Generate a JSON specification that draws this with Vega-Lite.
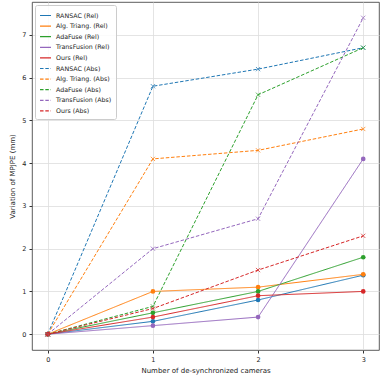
{
  "$schema": "https://vega.github.io/schema/vega-lite/v6.json",
  "width": 347,
  "height": 348,
  "autosize": {"type": "none"},
  "padding": {"left": 32, "top": 2, "right": 1, "bottom": 29},
  "config": {
    "font": "DejaVu Sans",
    "view": {"stroke": "#333333", "strokeWidth": 0.8},
    "axis": {"gridColor": "#dddddd", "gridWidth": 0.8, "domain": false, "tickColor": "#333333", "tickSize": 3, "labelFontSize": 6.5, "labelColor": "#222222", "titleFontSize": 7, "titleFontWeight": "normal", "titleColor": "#222222", "labelPadding": 3}
  },
  "data": {"values": [
    {"series": "RANSAC (Rel)", "kind": "Rel", "x": 0, "y": 0},
    {"series": "RANSAC (Rel)", "kind": "Rel", "x": 1, "y": 0.3},
    {"series": "RANSAC (Rel)", "kind": "Rel", "x": 2, "y": 0.8},
    {"series": "RANSAC (Rel)", "kind": "Rel", "x": 3, "y": 1.38},
    {"series": "Alg. Triang. (Rel)", "kind": "Rel", "x": 0, "y": 0},
    {"series": "Alg. Triang. (Rel)", "kind": "Rel", "x": 1, "y": 1.0},
    {"series": "Alg. Triang. (Rel)", "kind": "Rel", "x": 2, "y": 1.1},
    {"series": "Alg. Triang. (Rel)", "kind": "Rel", "x": 3, "y": 1.4},
    {"series": "AdaFuse (Rel)", "kind": "Rel", "x": 0, "y": 0},
    {"series": "AdaFuse (Rel)", "kind": "Rel", "x": 1, "y": 0.5},
    {"series": "AdaFuse (Rel)", "kind": "Rel", "x": 2, "y": 1.0},
    {"series": "AdaFuse (Rel)", "kind": "Rel", "x": 3, "y": 1.8},
    {"series": "TransFusion (Rel)", "kind": "Rel", "x": 0, "y": 0},
    {"series": "TransFusion (Rel)", "kind": "Rel", "x": 1, "y": 0.2},
    {"series": "TransFusion (Rel)", "kind": "Rel", "x": 2, "y": 0.4},
    {"series": "TransFusion (Rel)", "kind": "Rel", "x": 3, "y": 4.1},
    {"series": "Ours (Rel)", "kind": "Rel", "x": 0, "y": 0},
    {"series": "Ours (Rel)", "kind": "Rel", "x": 1, "y": 0.4},
    {"series": "Ours (Rel)", "kind": "Rel", "x": 2, "y": 0.9},
    {"series": "Ours (Rel)", "kind": "Rel", "x": 3, "y": 1.0},
    {"series": "RANSAC (Abs)", "kind": "Abs", "x": 0, "y": 0},
    {"series": "RANSAC (Abs)", "kind": "Abs", "x": 1, "y": 5.8},
    {"series": "RANSAC (Abs)", "kind": "Abs", "x": 2, "y": 6.2},
    {"series": "RANSAC (Abs)", "kind": "Abs", "x": 3, "y": 6.7},
    {"series": "Alg. Triang. (Abs)", "kind": "Abs", "x": 0, "y": 0},
    {"series": "Alg. Triang. (Abs)", "kind": "Abs", "x": 1, "y": 4.1},
    {"series": "Alg. Triang. (Abs)", "kind": "Abs", "x": 2, "y": 4.3},
    {"series": "Alg. Triang. (Abs)", "kind": "Abs", "x": 3, "y": 4.8},
    {"series": "AdaFuse (Abs)", "kind": "Abs", "x": 0, "y": 0},
    {"series": "AdaFuse (Abs)", "kind": "Abs", "x": 1, "y": 0.65},
    {"series": "AdaFuse (Abs)", "kind": "Abs", "x": 2, "y": 5.6},
    {"series": "AdaFuse (Abs)", "kind": "Abs", "x": 3, "y": 6.7},
    {"series": "TransFusion (Abs)", "kind": "Abs", "x": 0, "y": 0},
    {"series": "TransFusion (Abs)", "kind": "Abs", "x": 1, "y": 2.0},
    {"series": "TransFusion (Abs)", "kind": "Abs", "x": 2, "y": 2.7},
    {"series": "TransFusion (Abs)", "kind": "Abs", "x": 3, "y": 7.4},
    {"series": "Ours (Abs)", "kind": "Abs", "x": 0, "y": 0},
    {"series": "Ours (Abs)", "kind": "Abs", "x": 1, "y": 0.6},
    {"series": "Ours (Abs)", "kind": "Abs", "x": 2, "y": 1.5},
    {"series": "Ours (Abs)", "kind": "Abs", "x": 3, "y": 2.3}
  ]},
  "encoding": {
    "x": {"field": "x", "type": "quantitative", "scale": {"domain": [-0.15, 3.15], "nice": false, "zero": false}, "axis": {"values": [0, 1, 2, 3], "title": "Number of de-synchronized cameras", "titlePadding": 4}},
    "y": {"field": "y", "type": "quantitative", "scale": {"domain": [-0.37, 7.77], "nice": false, "zero": false}, "axis": {"values": [0, 1, 2, 3, 4, 5, 6, 7], "title": "Variation of MPJPE (mm)", "titlePadding": 6}},
    "color": {"field": "series", "type": "nominal",
      "scale": {"domain": ["RANSAC (Rel)", "Alg. Triang. (Rel)", "AdaFuse (Rel)", "TransFusion (Rel)", "Ours (Rel)", "RANSAC (Abs)", "Alg. Triang. (Abs)", "AdaFuse (Abs)", "TransFusion (Abs)", "Ours (Abs)"],
        "range": ["#1f77b4", "#ff7f0e", "#2ca02c", "#9467bd", "#d62728", "#1f77b4", "#ff7f0e", "#2ca02c", "#9467bd", "#d62728"]},
      "legend": {"title": null, "orient": "top-left", "offset": 3, "symbolType": "stroke", "symbolSize": 120, "symbolStrokeWidth": 1.2, "labelFontSize": 6.3, "labelColor": "#222222", "rowPadding": 0.6, "fillColor": "rgba(255,255,255,0.85)", "strokeColor": "#cccccc", "padding": 4, "cornerRadius": 2, "symbolOpacity": 1}
    }
  },
  "layer": [
    {
      "mark": {"type": "line", "strokeWidth": 1},
      "encoding": {
        "strokeDash": {"field": "series", "type": "nominal",
          "scale": {"domain": ["RANSAC (Rel)", "Alg. Triang. (Rel)", "AdaFuse (Rel)", "TransFusion (Rel)", "Ours (Rel)", "RANSAC (Abs)", "Alg. Triang. (Abs)", "AdaFuse (Abs)", "TransFusion (Abs)", "Ours (Abs)"],
            "range": [[1, 0], [1, 0], [1, 0], [1, 0], [1, 0], [3.5, 1.8], [3.5, 1.8], [3.5, 1.8], [3.5, 1.8], [3.5, 1.8]]}},
        "opacity": {"field": "series", "type": "nominal",
          "scale": {"domain": ["RANSAC (Rel)", "Alg. Triang. (Rel)", "AdaFuse (Rel)", "TransFusion (Rel)", "Ours (Rel)", "RANSAC (Abs)", "Alg. Triang. (Abs)", "AdaFuse (Abs)", "TransFusion (Abs)", "Ours (Abs)"],
            "range": [1, 1, 1, 1, 1, 0.75, 0.75, 0.75, 0.75, 0.75]}, "legend": null}
      }
    },
    {
      "transform": [{"filter": "datum.kind == 'Rel'"}],
      "mark": {"type": "point", "shape": "circle", "filled": true, "size": 22, "opacity": 1}
    },
    {
      "transform": [{"filter": "datum.kind == 'Abs'"}],
      "mark": {"type": "point", "shape": "M-1,-1L1,1M-1,1L1,-1", "filled": false, "size": 18, "strokeWidth": 1, "opacity": 0.75}
    }
  ]
}
